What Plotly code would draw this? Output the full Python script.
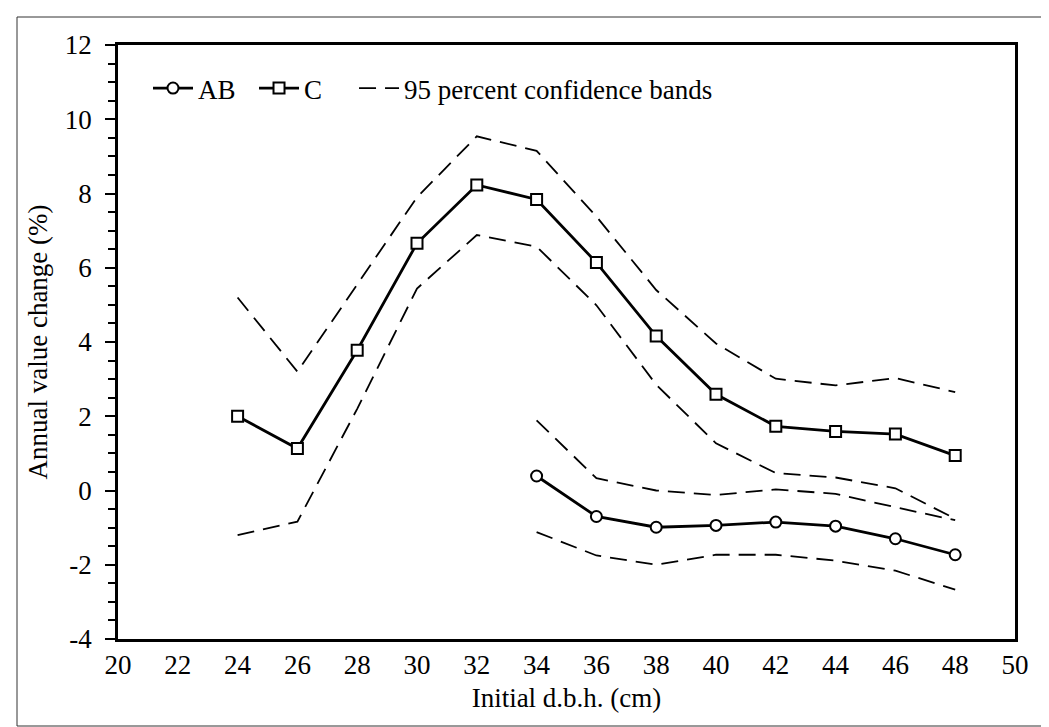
import plotly.graph_objects as go

# ---- data ----
x_c = [24, 26, 28, 30, 32, 34, 36, 38, 40, 42, 44, 46, 48]
c_vals = [2.0, 1.13, 3.78, 6.66, 8.23, 7.84, 6.14, 4.16, 2.59, 1.73, 1.59, 1.52, 0.94]
c_upper = [5.2, 3.2, 5.55, 7.9, 9.54, 9.15, 7.38, 5.4, 3.96, 3.01, 2.83, 3.03, 2.65]
c_lower = [-1.2, -0.84, 2.2, 5.44, 6.88, 6.57, 4.99, 2.85, 1.27, 0.47, 0.35, 0.06, -0.76]

x_ab = [34, 36, 38, 40, 42, 44, 46, 48]
ab_vals = [0.39, -0.70, -0.99, -0.94, -0.85, -0.96, -1.30, -1.73]
ab_upper = [1.89, 0.33, 0.0, -0.12, 0.03, -0.09, -0.45, -0.80]
ab_lower = [-1.12, -1.75, -2.0, -1.73, -1.73, -1.89, -2.16, -2.67]

x_ticks = list(range(20, 51, 2))
y_ticks = list(range(-4, 13, 2))
y_tick_text = [str(v) for v in y_ticks]  # plain hyphen minus as in the reference

FONT = "Liberation Serif"
FS = 27
W, H = 1049, 727
L, R, T, B = 110, 42, 37, 96
pw, ph = W - L - R, H - T - B
NB = "\u00a0"

fig = go.Figure()

fig.add_trace(go.Scatter(
    x=x_ab, y=ab_vals, name="AB" + NB * 2, mode="lines+markers",
    line=dict(color="black", width=2.8),
    marker=dict(symbol="circle", size=11, color="white", line=dict(color="black", width=2)),
))
fig.add_trace(go.Scatter(
    x=x_c, y=c_vals, name="C" + NB * 4, mode="lines+markers",
    line=dict(color="black", width=2.8),
    marker=dict(symbol="square", size=11, color="white", line=dict(color="black", width=2)),
))
band_line = dict(color="black", width=1.8, dash="17px,9px")
fig.add_trace(go.Scatter(x=x_c, y=c_upper, name="95 percent confidence bands", mode="lines",
                         line=band_line, legendgroup="band"))
for xs, ys in [(x_c, c_lower), (x_ab, ab_upper), (x_ab, ab_lower)]:
    fig.add_trace(go.Scatter(x=xs, y=ys, mode="lines", line=band_line,
                             showlegend=False, legendgroup="band", hoverinfo="skip"))


def px_x(p):
    return (p - L) / pw


def px_y(p):
    return (H - B - p) / ph


# outer frame
fig.add_shape(type="rect", xref="paper", yref="paper",
              x0=px_x(9), x1=px_x(1040), y0=px_y(718), y1=px_y(9),
              line=dict(color="#333333", width=1), layer="below")

fig.update_layout(
    width=W, height=H,
    margin=dict(l=L, r=R, t=T, b=B),
    paper_bgcolor="white", plot_bgcolor="white",
    font=dict(family=FONT, size=FS, color="black"),
    showlegend=True,
    legend=dict(orientation="h", x=px_x(140), y=px_y(56), xanchor="left", yanchor="top",
                bgcolor="rgba(0,0,0,0)", font=dict(family=FONT, size=FS),
                itemwidth=40, traceorder="normal"),
    xaxis=dict(range=[20, 50], tickvals=x_ticks, showline=True, linecolor="black",
               linewidth=2.5, mirror=True, ticks="", showgrid=False, zeroline=False,
               ticklabelstandoff=0,
               title=dict(text="Initial d.b.h. (cm)", font=dict(family=FONT, size=FS), standoff=9)),
    xaxis2=dict(range=[20, 50], overlaying="x", anchor="free", position=4 / 16, side="bottom",
                tickvals=x_ticks, showticklabels=False, showline=True, linecolor="black",
                linewidth=2.5, ticks="outside", ticklen=8, tickwidth=2, tickcolor="black",
                showgrid=False, zeroline=False),
    yaxis=dict(range=[-4, 12], tickvals=y_ticks, ticktext=y_tick_text, showline=True,
               linecolor="black", linewidth=2.5, mirror=True, ticks="outside", ticklen=10,
               tickwidth=2, tickcolor="black", showgrid=False, zeroline=False,
               ticklabelstandoff=8,
               minor=dict(dtick=0.5, tick0=0, ticks="outside", ticklen=7, tickwidth=2,
                          tickcolor="black", showgrid=False),
               title=dict(text="Annual value change (%)", font=dict(family=FONT, size=FS), standoff=10)),
)

fig.write_html("out.html")
